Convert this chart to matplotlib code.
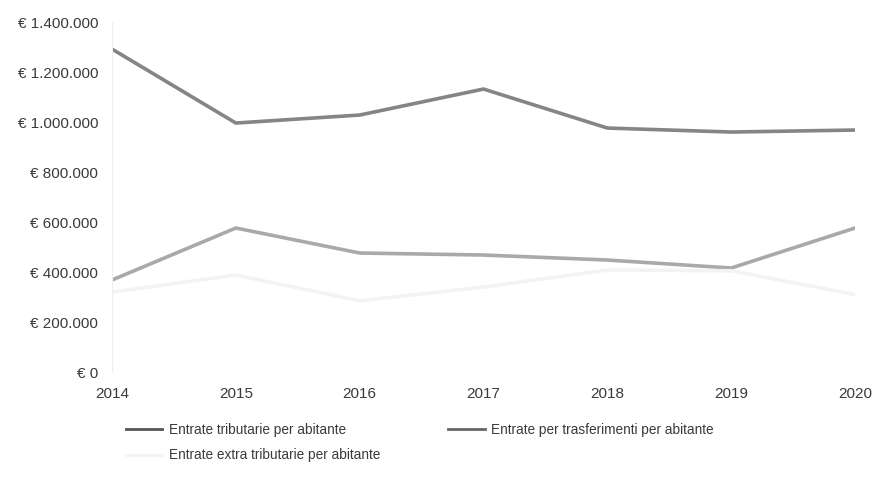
import matplotlib.pyplot as plt
from matplotlib.ticker import FuncFormatter

plt.rcParams['font.family'] = ['Liberation Sans', 'DejaVu Sans']

anni = ['2014', '2015', '2016', '2017', '2018', '2019', '2020']
tributarie = [1292000, 996000, 1028000, 1132000, 976000, 960000, 968000]
trasferimenti = [368000, 576000, 476000, 468000, 448000, 416000, 576000]
extra_tributarie = [320000, 388000, 285000, 340000, 408000, 405000, 310000]

nomi = ['Entrate tributarie per abitante',
        'Entrate per trasferimenti per abitante',
        'Entrate extra tributarie per abitante']
colori = ['#858585', '#a9a9a9', '#f3f3f3']

fig = plt.figure(figsize=(8.79, 4.90), dpi=100)
ax = fig.add_axes([0.1274, 0.2408, 0.8453, 0.7142])

x = range(len(anni))
l1, = ax.plot(x, tributarie, color=colori[0], lw=2.6, label=nomi[0])
l2, = ax.plot(x, trasferimenti, color=colori[1], lw=2.6, label=nomi[1])
l3, = ax.plot(x, extra_tributarie, color=colori[2], lw=2.6, label=nomi[2])

ax.set_xlim(0, len(anni) - 1)
ax.set_ylim(0, 1400000)
ax.set_yticks(range(0, 1400001, 200000))


def euro(v, pos):
    return '€ ' + f'{int(v):,}'.replace(',', '.')


ax.yaxis.set_major_formatter(FuncFormatter(euro))
ax.set_xticks(list(x))
ax.set_xticklabels(anni)
ax.tick_params(axis='both', length=0, labelsize=11, colors='#3a3a3a')
ax.tick_params(axis='x', pad=11)
ax.tick_params(axis='y', pad=10)

for s in ['top', 'right', 'bottom']:
    ax.spines[s].set_visible(False)
ax.spines['left'].set_color('#efefef')

# ordine per avere tributarie | trasferimenti sulla prima riga
leg = fig.legend([l1, l3, l2], [nomi[0], nomi[2], nomi[1]], ncol=2,
                 loc='upper left', bbox_to_anchor=(0.143, 0.137),
                 frameon=False, fontsize=9.8, handlelength=2.7,
                 handletextpad=0.45, columnspacing=5.0, labelspacing=0.85,
                 borderpad=0, borderaxespad=0)
for t in leg.get_texts():
    t.set_color('#3a3a3a')
for h in leg.get_lines():
    h.set_linewidth(2)
leg.get_lines()[0].set_color('#555555')
leg.get_lines()[2].set_color('#666666')

fig.savefig('out.png', dpi=100)
